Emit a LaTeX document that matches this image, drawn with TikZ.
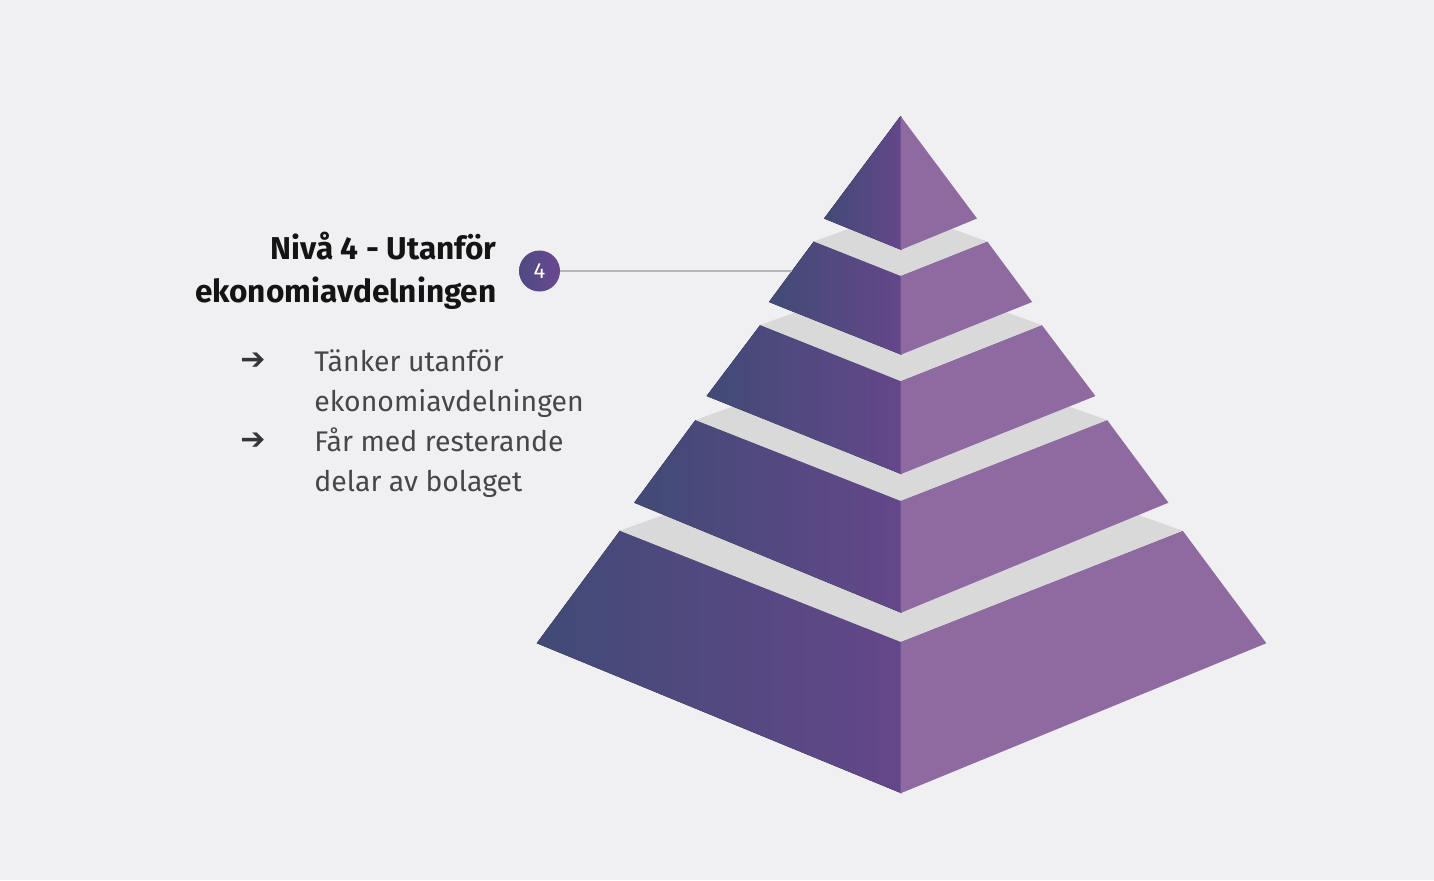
\documentclass[tikz,border=0pt]{standalone}
\usepackage{fontspec}
\setmainfont{Fira Sans}
\newfontfamily\dejavu{DejaVu Sans}
\usetikzlibrary{calc}
\definecolor{bg}{HTML}{F0F0F3}
\definecolor{rightface}{HTML}{8E6AA1}
\definecolor{leftA}{HTML}{414A76}
\definecolor{leftB}{HTML}{64478A}
\definecolor{band}{HTML}{D9D9D9}
\definecolor{headtxt}{HTML}{141414}
\definecolor{bodytxt}{HTML}{474747}
\definecolor{linec}{HTML}{B5B5BC}
\definecolor{circA}{HTML}{4E4A82}
\definecolor{circB}{HTML}{6A4890}
\begin{document}
\begin{tikzpicture}[x=0.5pt,y=-0.5pt,
  leftface/.style={left color=leftA,right color=leftB},
  rface/.style={fill=rightface},
  bandface/.style={fill=band},
  headfont/.style={font=\fontsize{15.8}{18}\selectfont\bfseries, text=headtxt, inner sep=0pt},
  bodyfont/.style={font=\fontsize{14.2}{17}\selectfont, text=bodytxt, inner sep=0pt},
  arrowfont/.style={font=\dejavu\bfseries\fontsize{15}{17}\selectfont, text=bodytxt!75!black, inner sep=0pt}]
\fill[bg] (0,0) rectangle (1434,880);
\useasboundingbox (0,0) rectangle (1434,880);

% layer coordinates
\coordinate (A1) at (900.5,116);
\coordinate (BL1) at (824,218.5);   \coordinate (BC1) at (900.5,250);   \coordinate (BR1) at (977,218.5);
\coordinate (TL2) at (813.8,241.4); \coordinate (TC2) at (900.5,275.8); \coordinate (TR2) at (987.2,241.4);
\coordinate (BL2) at (768.9,302);   \coordinate (BC2) at (900.5,354.8); \coordinate (BR2) at (1032.1,302);
\coordinate (TL3) at (760.2,325);   \coordinate (TC3) at (900.5,381);   \coordinate (TR3) at (1041.8,325);
\coordinate (BL3) at (706.6,396);   \coordinate (BC3) at (900.5,474.2); \coordinate (BR3) at (1095.4,396);
\coordinate (TL4) at (695.4,420);   \coordinate (TC4) at (900.5,500.8); \coordinate (TR4) at (1107.1,420);
\coordinate (BL4) at (634.2,502.7); \coordinate (BC4) at (900.5,612.9); \coordinate (BR4) at (1168.4,502.7);
\coordinate (TL5) at (619.9,530.7); \coordinate (TC5) at (900.5,641.8); \coordinate (TR5) at (1182.7,530.7);
\coordinate (BL5) at (536.7,643.2); \coordinate (BC5) at (900.5,793.3); \coordinate (BR5) at (1266.3,643.2);
% where the back edges of each top face meet the layer above
\coordinate (PL2) at (848.9,228.8); \coordinate (PR2) at (952.1,228.8);
\coordinate (PL3) at (795.0,312.5); \coordinate (PR3) at (1006.5,312.5);
\coordinate (PL4) at (732.7,406.6); \coordinate (PR4) at (1069.0,406.6);
\coordinate (PL5) at (663.7,514.9); \coordinate (PR5) at (1138.0,514.9);

% layer 5
\fill[leftface] (TL5) -- ($(TC5)+(1,0)$) -- ($(BC5)+(1,0)$) -- (BL5) -- cycle;
\fill[rface] (TC5) -- (TR5) -- (BR5) -- (BC5) -- cycle;
\fill[bandface] (TL5) -- (TC5) -- (TR5) -- (PR5) -- (BC4) -- (PL5) -- cycle;
% layer 4
\fill[leftface] (TL4) -- ($(TC4)+(1,0)$) -- ($(BC4)+(1,0)$) -- (BL4) -- cycle;
\fill[rface] (TC4) -- (TR4) -- (BR4) -- (BC4) -- cycle;
\fill[bandface] (TL4) -- (TC4) -- (TR4) -- (PR4) -- (BC3) -- (PL4) -- cycle;
% layer 3
\fill[leftface] (TL3) -- ($(TC3)+(1,0)$) -- ($(BC3)+(1,0)$) -- (BL3) -- cycle;
\fill[rface] (TC3) -- (TR3) -- (BR3) -- (BC3) -- cycle;
\fill[bandface] (TL3) -- (TC3) -- (TR3) -- (PR3) -- (BC2) -- (PL3) -- cycle;
% layer 2
\fill[leftface] (TL2) -- ($(TC2)+(1,0)$) -- ($(BC2)+(1,0)$) -- (BL2) -- cycle;
\fill[rface] (TC2) -- (TR2) -- (BR2) -- (BC2) -- cycle;
\fill[bandface] (TL2) -- (TC2) -- (TR2) -- (PR2) -- (BC1) -- (PL2) -- cycle;
% layer 1
\fill[leftface] ($(A1)+(1,1.3)$) -- ($(BC1)+(1,0)$) -- (BL1) -- (A1) -- cycle;
\fill[rface] (A1) -- (BR1) -- (BC1) -- cycle;

% callout
\coordinate (c4end) at (792,271);
\node[circle, minimum size=20.5pt, inner sep=0pt, left color=circA, right color=circB, text=white,
      font=\fontsize{11}{13}\selectfont] (c4) at (539.5,271) {4};
\draw[linec, line width=1pt] (c4.east) -- (c4end);

% title
\node[headfont, anchor=base east] (t1) at (497,259) {Nivå 4 - Utanför};
\node[headfont, anchor=base east] (t2) at (497,302) {ekonomiavdelningen};

% bullets
\node[arrowfont] (a1) at (253,361) {➔};
\node[arrowfont] (a2) at (253,441) {➔};
\node[bodyfont, anchor=base west] (b1) at (314,371.5) {Tänker utanför};
\node[bodyfont, anchor=base west] (b1b) at (314,411.5) {ekonomiavdelningen};
\node[bodyfont, anchor=base west] (b2) at (314,451.5) {Får med resterande};
\node[bodyfont, anchor=base west] (b2b) at (314,491.5) {delar av bolaget};
\end{tikzpicture}
\end{document}
